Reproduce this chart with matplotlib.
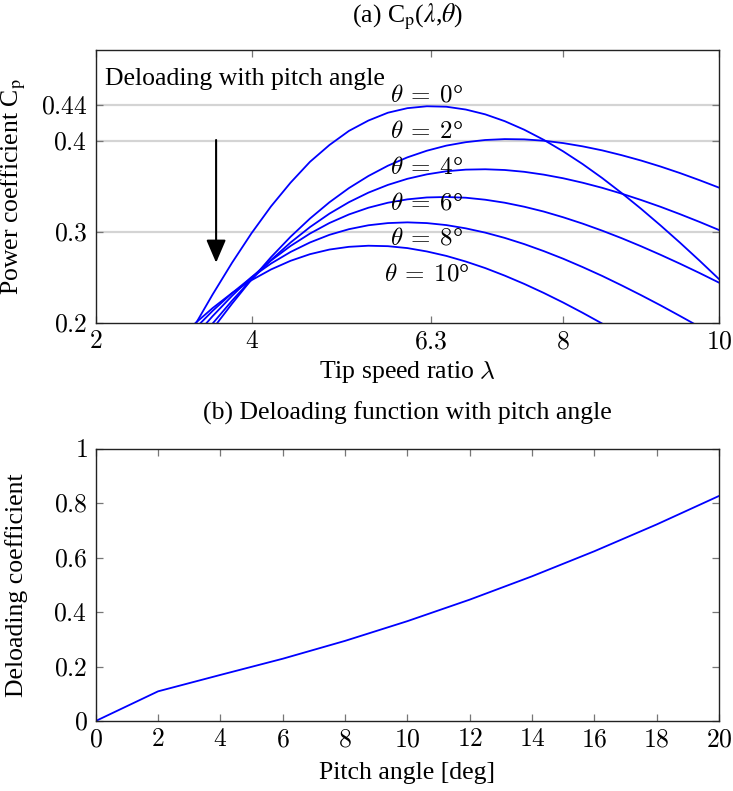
import matplotlib
matplotlib.use("Agg")
import matplotlib.pyplot as plt

plt.rcParams["font.family"] = ["Liberation Serif", "DejaVu Serif"]
plt.rcParams["mathtext.fontset"] = "cm"

# ---- (a) power coefficient curves, one per pitch angle ----
tsr = [3.00, 3.25, 3.50, 3.75, 4.00, 4.25, 4.50, 4.75, 5.00, 5.25, 5.50, 5.75,
       6.00, 6.25, 6.50, 6.75, 7.00, 7.25, 7.50, 7.75, 8.00, 8.25, 8.50, 8.75,
       9.00, 9.25, 9.50, 9.75, 10.00]
cp_theta0 = [0.156, 0.194, 0.231, 0.266, 0.2985, 0.328, 0.354, 0.377, 0.3955, 0.411,
             0.4224, 0.431, 0.436, 0.4381, 0.4376, 0.4345, 0.4292, 0.4217, 0.4123,
             0.4012, 0.3885, 0.3745, 0.3592, 0.3427, 0.3253, 0.3070, 0.2880, 0.2683,
             0.2480]
cp_theta2 = [0.135, 0.164, 0.193, 0.221, 0.2476, 0.2721, 0.2945, 0.3146, 0.3325,
             0.3481, 0.3614, 0.3727, 0.3819, 0.3892, 0.3948, 0.3986, 0.4010, 0.4020,
             0.4017, 0.4002, 0.3976, 0.3940, 0.3896, 0.3843, 0.3784, 0.3718, 0.3646,
             0.3568, 0.3486]
cp_theta4 = [0.145, 0.1725, 0.1991, 0.2243, 0.2476, 0.2690, 0.2882, 0.3052, 0.3200,
             0.3326, 0.3431, 0.3516, 0.3583, 0.3632, 0.3666, 0.3684, 0.3688, 0.3680,
             0.3660, 0.3629, 0.3589, 0.3540, 0.3484, 0.3420, 0.3350, 0.3275, 0.3194,
             0.3109, 0.3020]
cp_theta6 = [0.1574, 0.1829, 0.2072, 0.2296, 0.2501, 0.2684, 0.2844, 0.2981, 0.3097,
             0.3191, 0.3265, 0.3320, 0.3357, 0.3378, 0.3383, 0.3375, 0.3353, 0.3320,
             0.3276, 0.3223, 0.3160, 0.3090, 0.3013, 0.2930, 0.2841, 0.2747, 0.2649,
             0.2547, 0.2441]
cp_theta8 = [0.1680, 0.1914, 0.2130, 0.2326, 0.2500, 0.2651, 0.2778, 0.2883, 0.2967,
             0.3029, 0.3072, 0.3096, 0.3104, 0.3096, 0.3074, 0.3038, 0.2991, 0.2933,
             0.2865, 0.2788, 0.2704, 0.2612, 0.2515, 0.2411, 0.2303, 0.2191, 0.2074,
             0.1955, 0.1832]
cp_theta10 = [0.1766, 0.1974, 0.2161, 0.2327, 0.2468, 0.2586, 0.2681, 0.2754, 0.2805,
              0.2835, 0.2847, 0.2842, 0.2821, 0.2784, 0.2735, 0.2673, 0.2601, 0.2518,
              0.2427, 0.2328, 0.2222, 0.2109, 0.1991, 0.1868, 0.1741, 0.1611, 0.1477,
              0.1340, 0.1201]
cp_curves = [cp_theta0, cp_theta2, cp_theta4, cp_theta6, cp_theta8, cp_theta10]
pitch_labels = ["0", "2", "4", "6", "8", "10"]
label_cp = [0.450, 0.410, 0.370, 0.3315, 0.293, 0.2525]

tsr_ticks = [2, 4, 6.3, 8, 10]
tsr_ticklabels = ["2", "4", "6.3", "8", "10"]
cp_ticks = [0.2, 0.3, 0.4, 0.44]
cp_ticklabels = ["0.2", "0.3", "0.4", "0.44"]

# ---- (b) deloading coefficient vs pitch angle ----
pitch = [0, 2, 4, 6, 8, 10, 12, 14, 16, 18, 20]
deloading = [0.0, 0.1089, 0.1692, 0.2286, 0.2942, 0.3666, 0.4456, 0.5313, 0.6233,
             0.7217, 0.8263]
pitch_ticks = [0, 2, 4, 6, 8, 10, 12, 14, 16, 18, 20]
deload_ticks = [0, 0.2, 0.4, 0.6, 0.8, 1]
deload_ticklabels = ["0", "0.2", "0.4", "0.6", "0.8", "1"]

FS = 18.5
BLUE = (0, 0, 1)
YLABEL_X = -0.108

fig = plt.figure(figsize=(7.33, 7.91), dpi=100)
ax1 = fig.add_axes([0.1306, 0.5920, 0.8503, 0.3448])
ax2 = fig.add_axes([0.1306, 0.0885, 0.8503, 0.3443])


def style_axes(ax):
    for s in ax.spines.values():
        s.set_linewidth(1.0)
        s.set_color("#222222")
    ax.tick_params(direction="in", length=5, width=0.9, color="#777777",
                   top=True, right=True, labelsize=FS, pad=6)


# panel (a)
for ax_y in cp_ticks[1:]:
    ax1.axhline(ax_y, color="#d4d4d4", lw=1.6, zorder=0)
for vals in cp_curves:
    ax1.plot(tsr, vals, color=BLUE, lw=1.3, zorder=2)
for p, yv in zip(pitch_labels, label_cp):
    ax1.text(6.25, yv, r"$\theta \:=\: %s$°" % p, ha="center", va="center",
             fontsize=FS - 0.5, zorder=3)
ax1.text(2.12, 0.468, "Deloading with pitch angle", ha="left", va="center", fontsize=FS)
ax1.annotate("", xy=(3.545, 0.266), xytext=(3.545, 0.401),
             arrowprops=dict(arrowstyle="-|>,head_length=0.7,head_width=0.3",
                             color="black", lw=1.5, shrinkA=0, shrinkB=0,
                             mutation_scale=20))
ax1.set_xlim(2, 10)
ax1.set_ylim(0.2, 0.5)
ax1.set_xticks(tsr_ticks, ["$%s$" % t for t in tsr_ticklabels])
ax1.set_yticks(cp_ticks, ["$%s$" % t for t in cp_ticklabels])
style_axes(ax1)
ax1.set_xlabel(r"Tip speed ratio $\lambda$", fontsize=FS, labelpad=4)
ax1.set_ylabel(r"Power coefficient C$_{\mathrm{p}}$", fontsize=FS,
               math_fontfamily="stix")
ax1.yaxis.set_label_coords(YLABEL_X, 0.5)
ax1.set_title(r"(a) C$_{\mathrm{p}}$($\lambda$,$\theta$)", fontsize=FS, pad=20,
              math_fontfamily="stix")

# panel (b)
ax2.plot(pitch, deloading, color=BLUE, lw=1.3)
ax2.set_xlim(0, 20)
ax2.set_ylim(0, 1)
ax2.set_xticks(pitch_ticks, ["$%d$" % t for t in pitch_ticks])
ax2.set_yticks(deload_ticks, ["$%s$" % t for t in deload_ticklabels])
style_axes(ax2)
ax2.set_xlabel("Pitch angle [deg]", fontsize=FS, labelpad=8)
ax2.set_ylabel("Deloading coefficient", fontsize=FS)
ax2.yaxis.set_label_coords(YLABEL_X, 0.5)
ax2.set_title("(b) Deloading function with pitch angle", fontsize=FS, pad=21)

fig.savefig("out.png")
